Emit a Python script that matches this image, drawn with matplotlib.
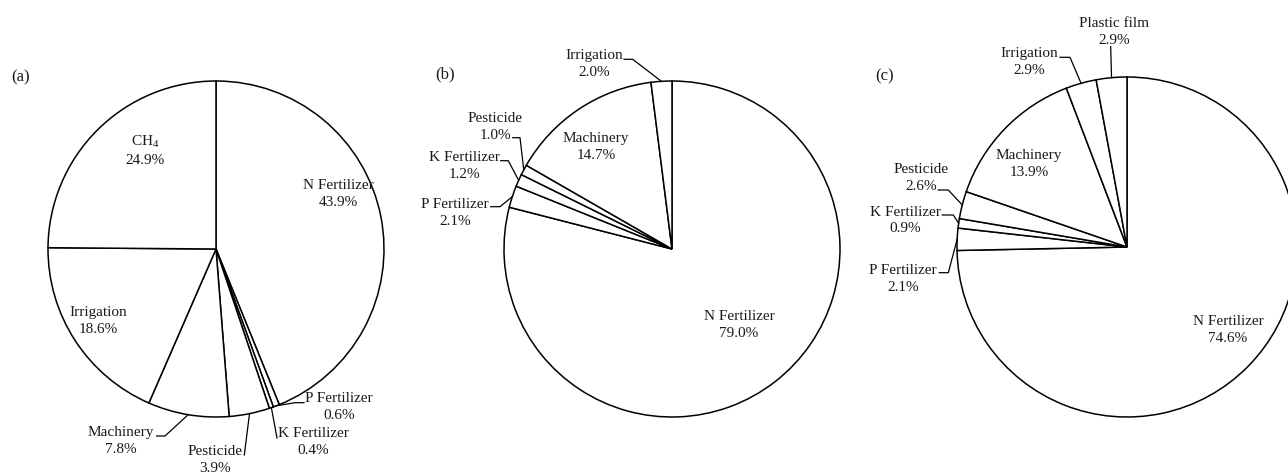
import numpy as np
import matplotlib
matplotlib.use("Agg")
import matplotlib.pyplot as plt

plt.rcParams['font.family'] = ['Liberation Serif', 'DejaVu Serif']
plt.rcParams['mathtext.fontset'] = 'custom'
plt.rcParams['mathtext.rm'] = 'Liberation Serif'
plt.rcParams['mathtext.it'] = 'Liberation Serif:italic'

W, H = 1288, 473

# data, clockwise from 12 o'clock
a_labels = ['N Fertilizer', 'P Fertilizer', 'K Fertilizer', 'Pesticide', 'Machinery', 'Irrigation', 'CH$_4$']
a_values = [43.9, 0.6, 0.4, 3.9, 7.8, 18.6, 24.9]

b_labels = ['N Fertilizer', 'P Fertilizer', 'K Fertilizer', 'Pesticide', 'Machinery', 'Irrigation']
b_values = [79.0, 2.1, 1.2, 1.0, 14.7, 2.0]

c_labels = ['N Fertilizer', 'P Fertilizer', 'K Fertilizer', 'Pesticide', 'Machinery', 'Irrigation', 'Plastic film']
c_values = [74.6, 2.1, 0.9, 2.6, 13.9, 2.9, 2.9]

# layout (pixel coords, y measured from the top)
a_pos = [(338, 194), (339, 407), (313, 442), (215.5, 459.5), (121, 440.5), (98, 321), (145, 150)]
a_lead = [None, [(295, 402.7), (304, 402.7)], [(277, 438)], [(244.3, 455)],
          [(165, 436), (156.7, 436)], None, None]

b_pos = [(739, 325), (455, 213), (464, 166.3), (495, 127), (596, 147), (594, 64.5)]
b_lead = [None, [(500, 206.7), (490.7, 206.7)], [(508.3, 160.7), (500.7, 160.7)],
          [(520, 137.7), (512.7, 137.7)], None, [(632.7, 59.3), (624, 59.3)]]

c_pos = [(1228, 330), (903.3, 278.7), (905, 220.5), (920.7, 178), (1029, 164), (1029.3, 62.5), (1114.3, 31.7)]
c_lead = [None, [(948.3, 272.7), (939.3, 272.7)], [(953.3, 215), (942.3, 215)],
          [(948.3, 190), (938.3, 190)], None, [(1070, 57.3), (1060, 57.3)], [(1110.7, 46.7)]]

txt_col = '#1a1a1a'


def Y(y):
    return H - y


fig = plt.figure(figsize=(W / 100, H / 100), dpi=100)
ax = fig.add_axes([0, 0, 1, 1])


def draw_pie(values, labels, pos, lead, center, r, tag, tagpos):
    cx, cy = center
    wedges, _ = ax.pie(values, center=(cx, Y(cy)), radius=r, startangle=90,
                       counterclock=False,
                       wedgeprops=dict(facecolor='white', edgecolor='black', linewidth=1.1))
    for w, name, v, p, ld in zip(wedges, labels, values, pos, lead):
        ax.text(p[0], Y(p[1]), f'{name}\n{v:.1f}%', ha='center', va='center',
                multialignment='center', fontsize=11, linespacing=1.4, color=txt_col)
        if ld is not None:
            mid = np.deg2rad((w.theta1 + w.theta2) / 2)
            xs = [cx + r * np.cos(mid)] + [q[0] for q in ld]
            ys = [Y(cy) + r * np.sin(mid)] + [Y(q[1]) for q in ld]
            ax.plot(xs, ys, color='black', lw=0.9)
    ax.text(tagpos[0], Y(tagpos[1]), tag, ha='center', va='center', fontsize=12, color=txt_col)


draw_pie(a_values, a_labels, a_pos, a_lead, (216, 249), 168, '(a)', (20.7, 77.3))
draw_pie(b_values, b_labels, b_pos, b_lead, (672, 249), 168, '(b)', (445, 74))
draw_pie(c_values, c_labels, c_pos, c_lead, (1127, 247), 170, '(c)', (885, 76))

ax.set_xlim(0, W)
ax.set_ylim(0, H)
ax.set_aspect('auto')
ax.axis('off')

fig.savefig('out.png', dpi=100)
